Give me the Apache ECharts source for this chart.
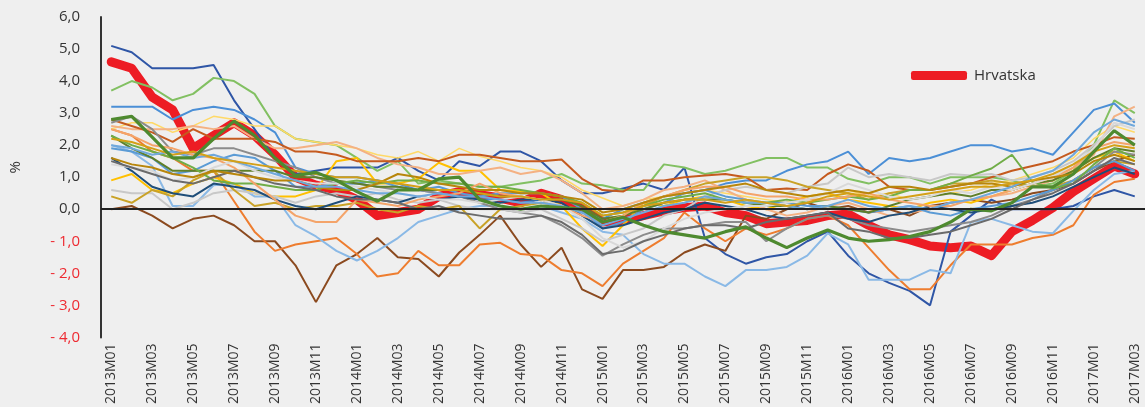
<!DOCTYPE html>
<html>
<head>
<meta charset="utf-8">
<script src="https://cdn.jsdelivr.net/npm/echarts@6/dist/echarts.min.js"></script>
<style>
  html, body { margin: 0; padding: 0; background: #efefef; }
  #chart { width: 1145px; height: 407px; }
</style>
</head>
<body>
<div id="chart"></div>
<script>
// mjesečne stope, 2013M01 - 2017M03
const months = [
  '2013M01','2013M02','2013M03','2013M04','2013M05','2013M06','2013M07','2013M08','2013M09','2013M10','2013M11','2013M12',
  '2014M01','2014M02','2014M03','2014M04','2014M05','2014M06','2014M07','2014M08','2014M09','2014M10','2014M11','2014M12',
  '2015M01','2015M02','2015M03','2015M04','2015M05','2015M06','2015M07','2015M08','2015M09','2015M10','2015M11','2015M12',
  '2016M01','2016M02','2016M03','2016M04','2016M05','2016M06','2016M07','2016M08','2016M09','2016M10','2016M11','2016M12',
  '2017M01','2017M02','2017M03'
]

const hrvatska = [4.6,4.4,3.5,3.1,1.9,2.3,2.7,2.3,1.7,1.0,0.75,0.6, 0.3,-0.2,-0.1,0.0,0.4,0.55,0.45,0.35,0.2,0.5,0.3,0.05, -0.4,-0.35,-0.2,-0.05,0.05,0.1,-0.1,-0.2,-0.45,-0.4,-0.35,-0.2, -0.15,-0.5,-0.8,-0.95,-1.15,-1.2,-1.15,-1.45,-0.7,-0.35,0.05,0.55, 0.95,1.35,1.1]

// ostale zemlje
const darkBlue = [5.1,4.9,4.4,4.4,4.4,4.5,3.4,2.5,1.6,1.1,1.2,1.3, 1.3,1.3,1.6,1.2,0.9,1.5,1.35,1.8,1.8,1.5,0.9,0.5, 0.5,0.65,0.8,0.6,1.3,-0.9,-1.4,-1.7,-1.5,-1.4,-1.0,-0.7, -1.45,-2.0,-2.3,-2.55,-3.0,-0.7,-0.2,0.3,0.0,0.0,0.0,0.1, 0.4,0.6,0.4]
const lightGreen = [3.7,4.0,3.8,3.4,3.6,4.1,4.0,3.6,2.6,2.2,2.1,2.0, 1.6,1.2,1.5,0.8,0.9,0.8,0.7,0.7,0.8,0.9,1.1,0.8, 0.75,0.6,0.6,1.4,1.3,1.1,1.2,1.4,1.6,1.6,1.3,1.3, 0.95,0.8,1.0,1.0,0.8,1.0,1.0,1.0,0.9,0.7,0.8,1.2, 2.0,3.4,3.0]
const midBlue = [3.2,3.2,3.2,2.8,3.1,3.2,3.1,2.8,2.4,1.3,1.1,1.0, 1.0,0.9,0.8,0.6,0.5,0.4,0.3,0.3,0.2,0.3,0.1,-0.1, -0.3,0.0,0.2,0.4,0.5,0.6,0.8,0.9,0.9,1.2,1.4,1.5, 1.8,1.1,1.6,1.5,1.6,1.8,2.0,2.0,1.8,1.9,1.7,2.4, 3.1,3.3,2.7]
const darkGreen = [2.8,2.9,2.25,1.6,1.6,2.2,2.75,2.3,1.6,1.05,1.15,0.9, 0.55,0.25,0.6,0.6,0.95,1.0,0.3,0.1,0.0,0.1,0.05,0.0, -0.4,-0.25,-0.5,-0.7,-0.8,-0.9,-0.7,-0.55,-0.9,-1.2,-0.9,-0.65, -0.9,-1.0,-0.95,-0.85,-0.7,-0.4,0.0,-0.05,0.2,0.7,0.7,1.1, 1.8,2.45,2.0]
const brown = [0.0,0.1,-0.2,-0.6,-0.3,-0.2,-0.5,-1.0,-1.0,-1.75,-2.9,-1.75, -1.4,-0.9,-1.5,-1.55,-2.1,-1.35,-0.8,-0.2,-1.1,-1.8,-1.2,-2.5, -2.8,-1.9,-1.9,-1.8,-1.35,-1.1,-1.3,-0.2,-0.3,0.0,0.2,0.0, 0.1,-0.1,0.0,-0.2,0.1,0.2,0.3,0.2,0.3,0.5,0.6,0.8, 1.2,1.5,1.7]
const orange = [2.5,2.3,1.8,1.6,1.2,1.2,0.25,-0.7,-1.3,-1.1,-1.0,-0.9, -1.4,-2.1,-2.0,-1.3,-1.75,-1.75,-1.1,-1.05,-1.4,-1.45,-1.9,-2.0, -2.4,-1.7,-1.3,-0.9,-0.1,-0.6,-1.0,-0.6,-0.8,-0.6,-0.3,-0.2, -0.5,-1.2,-1.9,-2.5,-2.5,-1.75,-1.1,-1.1,-1.1,-0.9,-0.8,-0.5, 0.45,0.85,0.95]
const lightBlue = [2.0,1.8,1.35,0.1,0.1,0.75,0.8,0.4,0.4,-0.5,-0.85,-1.3, -1.6,-1.3,-0.9,-0.4,-0.2,0.0,0.1,0.1,0.0,0.1,-0.1,-0.3, -0.7,-0.8,-1.4,-1.7,-1.7,-2.1,-2.4,-1.9,-1.9,-1.8,-1.45,-0.75, -1.1,-2.2,-2.2,-2.2,-1.9,-2.0,-0.4,-0.3,-0.5,-0.7,-0.75,-0.05, 0.6,1.1,1.2]
const yellow = [0.9,1.1,0.6,0.5,0.8,1.0,0.8,0.5,0.4,0.4,0.6,1.5, 1.6,0.8,0.8,0.95,1.45,1.2,1.2,0.6,0.55,0.5,0.1,-0.6, -1.15,-0.5,0.2,0.1,0.3,0.4,0.3,0.1,0.0,0.2,0.4,0.5, 0.3,0.2,0.1,0.0,0.2,0.3,0.2,0.4,0.6,0.8,0.9,1.2, 1.6,1.8,1.5]
const paleYellow = [2.5,2.7,2.7,2.4,2.6,2.9,2.8,2.6,2.6,2.2,2.1,2.0, 1.9,1.7,1.6,1.8,1.5,1.9,1.65,1.5,1.3,1.2,1.0,0.6, 0.35,0.1,0.3,0.4,0.5,0.6,0.5,0.4,0.3,0.2,0.3,0.5, 0.6,0.4,0.5,0.3,0.4,0.5,0.6,0.8,0.9,1.1,1.3,1.6, 2.2,2.6,2.4]
const peach = [2.6,2.5,2.5,2.5,2.6,2.5,2.6,2.2,1.9,1.9,2.0,2.1, 1.9,1.6,1.4,1.3,1.1,1.1,1.2,1.3,1.1,1.2,0.9,0.5, 0.0,0.1,0.3,0.6,0.7,0.9,0.6,0.3,0.0,-0.2,-0.1,0.1, 0.2,0.0,-0.2,-0.1,0.0,0.2,0.3,0.4,0.5,0.7,0.9,1.3, 1.7,2.9,3.2]
const rust = [2.8,2.6,2.4,2.1,2.5,2.2,2.2,2.2,2.1,1.8,1.8,1.7, 1.5,1.5,1.5,1.6,1.5,1.7,1.7,1.6,1.5,1.5,1.55,0.95, 0.6,0.55,0.9,0.9,1.0,1.05,1.1,1.0,0.6,0.65,0.6,1.1, 1.4,1.2,0.7,0.6,0.6,0.7,0.8,1.0,1.2,1.35,1.5,1.8, 2.0,2.25,2.2]
const gray = [2.7,2.9,2.5,1.8,1.7,1.9,1.9,1.7,1.5,1.3,1.0,0.8, 0.8,0.7,0.6,0.6,0.5,0.4,0.2,0.0,-0.1,-0.2,-0.5,-0.9, -1.45,-1.1,-0.8,-0.6,-0.6,-0.5,-0.4,-0.4,-1.0,-0.6,-0.3,-0.2, -0.3,-0.5,-0.6,-0.7,-0.6,-0.5,-0.4,-0.2,0.1,0.3,0.6,0.9, 1.3,1.8,1.7]
const lightGray = [0.6,0.5,0.5,0.0,0.2,0.5,0.6,0.5,0.4,0.2,0.4,0.5, 0.4,0.5,0.3,0.2,0.3,0.1,0.0,0.0,-0.1,0.0,-0.3,-0.6, -1.0,-0.8,-0.6,-0.2,0.0,0.4,0.6,0.7,0.6,0.5,0.7,0.8, 1.3,1.0,1.1,1.0,0.9,1.1,1.05,1.1,0.9,1.0,1.2,1.5, 2.0,2.6,2.8]
const gold = [0.4,0.2,0.6,0.4,0.9,1.2,0.6,0.1,0.2,0.0,0.1,0.1, 0.2,0.0,-0.1,0.1,0.0,0.1,-0.6,0.0,0.1,0.2,0.1,0.0, -0.4,-0.2,0.1,0.4,0.6,0.8,0.9,1.0,1.0,0.9,0.7,0.6, 0.5,0.3,0.5,0.6,0.6,0.8,0.8,0.9,0.8,0.7,0.7,0.9, 1.3,1.5,1.4]
const steelBlue = [1.9,1.8,1.6,1.1,1.2,1.5,1.7,1.6,1.2,0.7,0.7,0.8, 0.8,0.9,0.7,0.6,0.7,0.5,0.4,0.5,0.5,0.5,0.4,0.0, -0.6,-0.4,0.0,0.2,0.5,0.6,0.4,0.3,0.2,0.2,0.1,0.1, 0.0,-0.1,0.0,0.1,-0.1,-0.2,0.0,0.1,0.2,0.4,0.6,0.9, 1.3,1.5,1.2]
const navy = [1.6,1.2,0.7,0.5,0.4,0.8,0.7,0.6,0.3,0.1,0.0,0.2, 0.4,0.3,0.2,0.4,0.3,0.4,0.3,0.2,0.3,0.3,0.2,-0.2, -0.6,-0.5,-0.3,-0.1,0.0,0.2,0.1,0.0,-0.2,-0.3,-0.2,-0.1, -0.3,-0.4,-0.2,-0.1,0.1,0.0,-0.1,0.0,0.1,0.2,0.4,0.7, 1.0,1.3,1.1]
const olive = [2.3,1.9,1.6,1.2,1.2,1.2,1.2,1.2,1.2,1.0,1.0,0.9, 0.8,0.7,0.7,0.6,0.6,0.6,0.5,0.4,0.4,0.3,0.3,0.1, -0.3,-0.2,0.0,0.2,0.3,0.3,0.3,0.2,0.1,0.1,0.0,0.1, 0.0,-0.1,0.1,0.3,0.4,0.5,0.4,0.6,0.6,0.8,0.9,1.2, 1.6,1.9,1.8]
const green = [2.3,2.0,1.8,1.6,1.3,0.9,0.8,0.8,0.7,0.6,0.6,0.8, 0.9,0.8,0.9,0.9,0.8,0.8,0.7,0.7,0.6,0.5,0.4,0.2, -0.2,-0.1,0.1,0.3,0.4,0.5,0.3,0.2,0.2,0.3,0.2,0.3, 0.4,0.3,0.4,0.6,0.6,0.8,1.05,1.27,1.7,0.85,0.65,0.8, 1.4,1.9,1.6]
const salmon = [2.5,2.3,2.0,1.9,1.7,1.6,1.3,0.8,0.3,-0.2,-0.4,-0.4, 0.3,0.2,0.1,0.3,0.4,0.5,0.8,0.5,0.4,0.3,0.1,-0.2, -0.4,-0.2,0.2,0.4,0.6,0.7,0.7,0.5,0.4,0.4,0.3,0.3, 0.4,0.5,0.3,0.2,0.1,0.1,0.3,0.4,0.6,0.8,1.0,1.3, 1.9,2.1,2.0]
const silver = [1.4,1.3,1.2,0.9,1.0,1.3,1.5,1.2,1.0,0.9,0.8,0.8, 0.7,0.6,0.5,0.4,0.3,0.3,0.2,0.3,0.4,0.3,0.1,-0.3, -0.9,-1.2,-1.0,-0.6,-0.3,-0.1,0.0,0.1,0.1,0.2,0.3,0.5, 0.8,0.6,0.4,0.3,0.4,0.6,0.5,0.7,0.6,0.8,1.0,1.4, 1.9,2.7,2.5]
const darkGray = [1.5,1.3,1.1,0.9,0.8,1.0,1.2,1.0,0.8,0.7,0.6,0.4, 0.3,0.3,0.2,0.0,0.1,-0.1,-0.2,-0.3,-0.3,-0.2,-0.4,-0.8, -1.4,-1.3,-1.0,-0.8,-0.6,-0.5,-0.5,-0.6,-0.4,-0.3,-0.2,-0.1, -0.6,-0.7,-0.9,-0.9,-0.8,-0.7,-0.5,-0.3,0.0,0.3,0.5,0.8, 1.2,1.6,1.4]
const tan = [1.6,1.4,1.3,1.1,1.0,1.2,1.1,1.0,0.9,0.9,0.7,0.6, 0.6,0.8,1.1,1.0,0.8,0.7,0.6,0.6,0.5,0.5,0.4,0.3, -0.1,0.0,0.2,0.4,0.5,0.6,0.7,0.8,0.6,0.5,0.4,0.5, 0.6,0.5,0.7,0.7,0.6,0.7,0.8,0.8,0.7,0.9,1.0,1.1, 1.5,1.7,1.5]
const skyBlue = [2.0,1.9,1.7,1.8,1.6,1.7,1.5,1.3,1.1,0.9,0.7,0.7, 0.6,0.5,0.5,0.4,0.5,0.4,0.4,0.3,0.2,0.2,0.1,-0.1, -0.5,-0.3,-0.1,0.1,0.2,0.4,0.3,0.2,0.2,0.1,0.0,0.1, 0.3,0.1,0.0,0.1,0.0,0.2,0.3,0.5,0.7,1.0,1.2,1.7, 2.4,2.8,2.6]
const mustard = [2.2,2.1,1.9,1.7,1.8,1.6,1.5,1.4,1.3,1.2,1.1,1.0, 1.0,0.9,0.8,0.7,0.6,0.6,0.5,0.4,0.4,0.3,0.3,0.2, -0.2,-0.1,0.1,0.2,0.3,0.3,0.2,0.3,0.2,0.1,0.2,0.4, 0.5,0.4,0.3,0.4,0.5,0.6,0.7,0.7,0.8,0.9,1.1,1.4, 1.8,2.0,1.9]

// boje linija ostalih zemalja
const others = [
  [darkBlue, '#2f56a6', 2],
  [lightGreen, '#82c062', 2],
  [midBlue, '#4b8fd6', 2],
  [brown, '#8b4a1f', 2],
  [orange, '#ee7d2f', 2],
  [lightBlue, '#8ab9e6', 2],
  [yellow, '#ffc000', 2],
  [paleYellow, '#ffd966', 1.5],
  [peach, '#f4b183', 2],
  [rust, '#c55a1e', 2],
  [gray, '#8c8c8c', 2],
  [lightGray, '#c8c8c8', 2],
  [gold, '#c9a227', 2],
  [steelBlue, '#5b9bd5', 2],
  [navy, '#1f4e79', 2],
  [olive, '#5f7f2a', 2],
  [green, '#70ad47', 2],
  [salmon, '#f4a46a', 2],
  [silver, '#d9d9d9', 2],
  [darkGray, '#6b6b6b', 2],
  [tan, '#b8860b', 2],
  [skyBlue, '#6fa8dc', 2],
  [mustard, '#d4a017', 2],
  [darkGreen, '#4e8a2f', 3.2]
]

const chart = echarts.init(document.getElementById('chart'))

const series = [{
  name: 'Hrvatska',
  type: 'line',
  data: hrvatska,
  showSymbol: false,
  lineStyle: { color: '#ed1c24', width: 9, cap: 'round', join: 'round' },
  itemStyle: { color: '#ed1c24' },
  z: 2,
  markLine: {
    silent: true,
    symbol: 'none',
    label: { show: false },
    lineStyle: { color: '#222', width: 2, type: 'solid' },
    data: [{ yAxis: 0 }]
  }
}]
others.forEach((o, i) => {
  series.push({
    name: 'z' + (i + 1),
    type: 'line',
    data: o[0],
    showSymbol: false,
    lineStyle: { color: o[1], width: o[2] },
    z: 3
  })
})

const option = {
  backgroundColor: '#efefef',
  animation: false,
  textStyle: { fontFamily: 'Open Sans' },
  grid: { left: 95, right: -3, top: 17, bottom: 67 },
  legend: {
    data: ['Hrvatska'],
    left: 906,
    top: 63,
    icon: 'roundRect',
    itemWidth: 56,
    itemHeight: 9,
    textStyle: { fontSize: 15, color: '#333', fontFamily: 'Open Sans', padding: [0, 0, 0, 2] }
  },
  xAxis: {
    type: 'category',
    data: months,
    boundaryGap: true,
    axisLine: { show: false },
    axisTick: { show: false },
    axisLabel: {
      interval: 1,
      rotate: 90,
      margin: 6,
      fontSize: 14,
      color: '#333'
    }
  },
  yAxis: {
    type: 'value',
    min: -4,
    max: 6,
    interval: 1,
    name: '%',
    nameLocation: 'middle',
    nameGap: 78,
    nameRotate: 90,
    nameTextStyle: { fontSize: 15, color: '#333', padding: [0, 0, 0, 20] },
    axisLine: { show: true, lineStyle: { color: '#333', width: 2 } },
    axisTick: { show: false },
    splitLine: { show: false },
    axisLabel: {
      margin: 21,
      fontSize: 15,
      color: '#333',
      formatter: function (v) {
        const s = Math.abs(v).toFixed(1).replace('.', ',')
        return v < 0 ? '{n|- ' + s + '}' : s
      },
      rich: { n: { color: '#ee2a31', fontSize: 15 } }
    }
  },
  series: series
}

chart.setOption(option)
</script>
</body>
</html>
